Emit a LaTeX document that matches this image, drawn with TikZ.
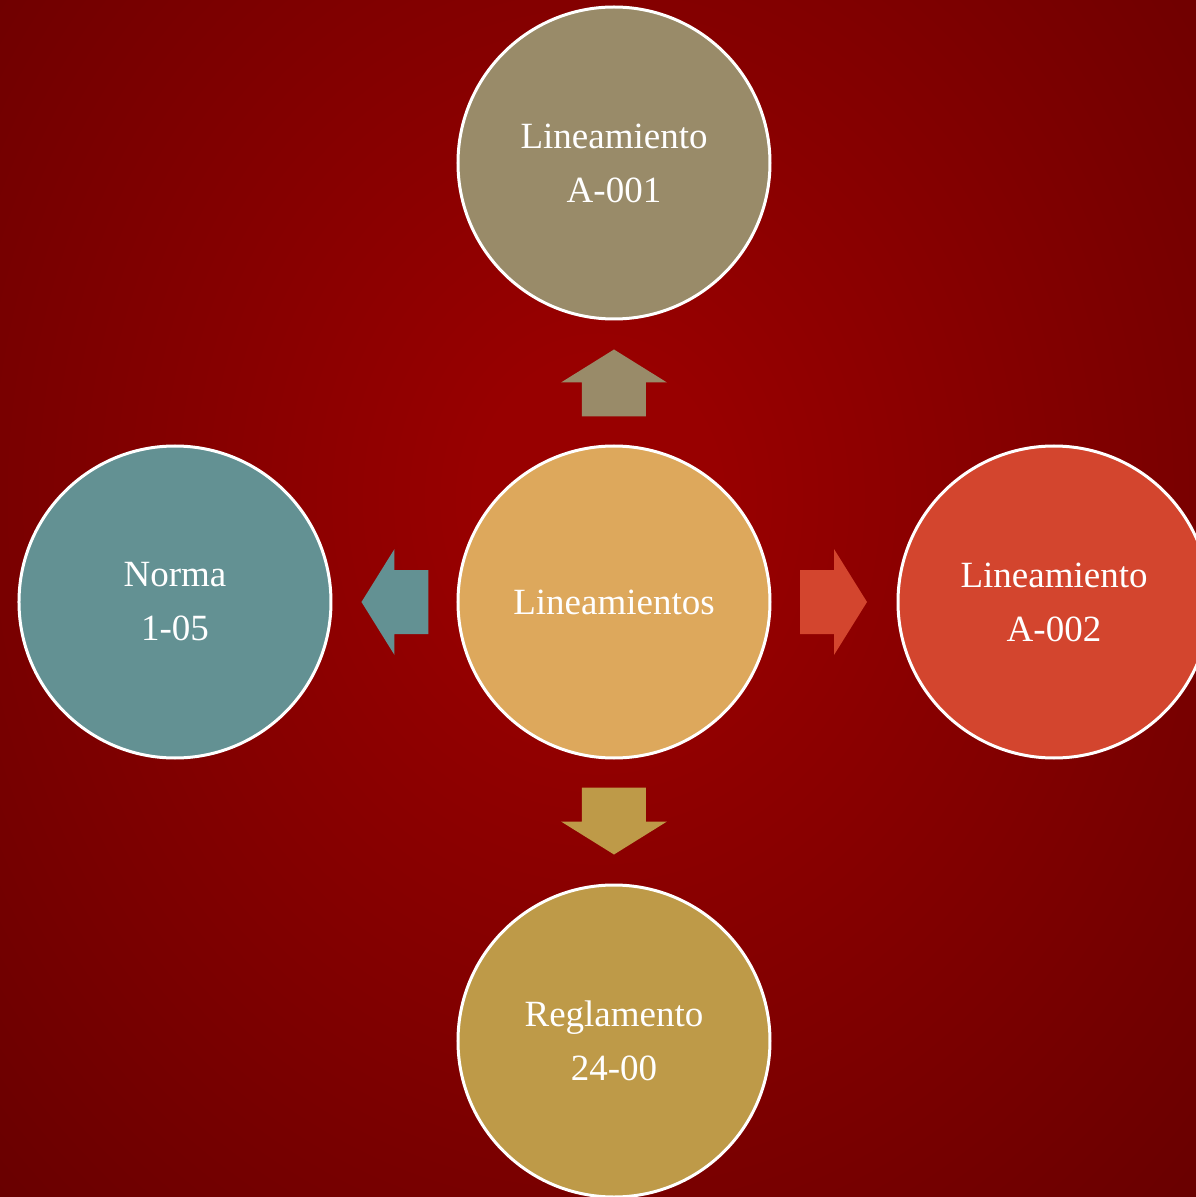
\documentclass[tikz,border=0pt]{standalone}
\usepackage{fontspec}
\setmainfont{Liberation Serif}
\usetikzlibrary{calc}
\definecolor{bgin}{HTML}{980000}
\definecolor{bgout}{HTML}{680000}
\definecolor{ctrcol}{HTML}{DDA85C}
\definecolor{topcol}{HTML}{998B69}
\definecolor{rgtcol}{HTML}{D3452E}
\definecolor{lftcol}{HTML}{639193}
\definecolor{botcol}{HTML}{BE9A48}
\pgfdeclareradialshading{bgshade}{\pgfpoint{0bp}{0bp}}{color(0bp)=(bgin); color(5bp)=(bgin); color(36bp)=(bgout); color(50bp)=(bgout)}
\begin{document}
\begin{tikzpicture}[x=1pt,y=1pt,
  bubble/.style={circle,draw=white,line width=3pt,minimum size=312pt,inner sep=0pt,
    text=white,align=center,font=\fontsize{37}{54}\selectfont}]
\useasboundingbox (-614,-595) rectangle (582,602);
\clip (-614,-595) rectangle (582,602);
\shade[shading=bgshade] (-614,-595) rectangle (582,800);
\node[bubble,fill=ctrcol] (c) at (0,0) {Lineamientos};
\node[bubble,fill=topcol] (t) at (0,439) {Lineamiento\\A-001};
\node[bubble,fill=rgtcol] (r) at (440,0) {Lineamiento\\A-002};
\node[bubble,fill=lftcol] (l) at (-439,0) {Norma\\1-05};
\node[bubble,fill=botcol] (b) at (0,-439) {Reglamento\\24-00};
\foreach \n/\ang/\col in {t/90/topcol,r/0/rgtcol,l/180/lftcol,b/270/botcol}
{
    \fill[\col, shift={($(c)!0.5!(\n)$)}, rotate=\ang]
      (-34,32) -- (0,32) -- (0,53) -- (33,0) -- (0,-53) -- (0,-32) -- (-34,-32) -- cycle;
}
\end{tikzpicture}
\end{document}
